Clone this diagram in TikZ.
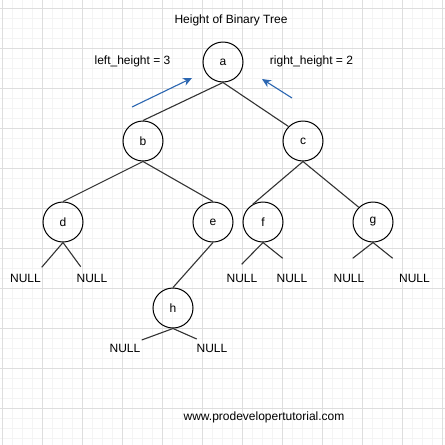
\documentclass[tikz,border=0pt]{standalone}
\usepackage{fontspec}
\setmainfont{Liberation Sans}
\usetikzlibrary{arrows.meta}

\definecolor{gridmajor}{HTML}{DEDEDE}
\definecolor{gridminor}{HTML}{F4F4F4}
\definecolor{arrowblue}{HTML}{2B66B1}
\definecolor{edgegray}{HTML}{333333}

\tikzset{
    treenode/.style={draw=black, circle, minimum size=40pt, inner sep=0pt, line width=1pt},
    treeedge/.style={draw=edgegray, line width=1.1pt},
    heightarrow/.style={draw=arrowblue, line width=1.1pt, -{Stealth[length=9pt, width=8pt]}},
}

\begin{document}
\begin{tikzpicture}[x=1pt, y=-1pt, font=\fontsize{12}{14}\selectfont]

    \fill[white] (0, 0) rectangle (445, 445);
    \useasboundingbox (0, 0) rectangle (445, 445);

    % grid
    \foreach \i in {0, ..., 44} {
        \draw[gridminor, line width=0.7pt] (2.3+10*\i, 0) -- (2.3+10*\i, 445);
        \draw[gridminor, line width=0.7pt] (0, 8.3+10*\i) -- (445, 8.3+10*\i);
    }
    \foreach \i in {0, ..., 11} {
        \draw[gridmajor, line width=0.9pt] (2.3+40*\i, 0) -- (2.3+40*\i, 445);
        \draw[gridmajor, line width=0.9pt] (0, 8.3+40*\i) -- (445, 8.3+40*\i);
    }

    \node (title) at (231, 20) {Height of Binary Tree};
    \node (lefth) at (132.5, 61) {left\_height = 3};
    \node (righth) at (311.5, 61) {right\_height = 2};
    \node (site) at (264, 417) {www.prodevelopertutorial.com};

    \node[treenode] (a) at (223, 62) {a};
    \node[treenode] (b) at (143, 141) {b};
    \node[treenode] (c) at (303, 141) {c};
    \node[treenode] (d) at (63, 222) {d};
    \node[treenode] (e) at (213, 222) {e};
    \node[treenode] (f) at (263, 222) {f};
    \node[treenode] (g) at (373, 222) {g};
    \node[treenode] (h) at (173, 308) {h};

    \foreach \n/\x/\y in {nda/25.5/278, ndb/92/278, nfa/242/278, nfb/292/278, nga/349/278, ngb/414.5/278, nha/125/348, nhb/212/348}
        \node (\n) at (\x, \y) {NULL};

    \draw[treeedge] (a.south) -- (b.north);
    \draw[treeedge] (a.south) -- (c.135);
    \draw[treeedge] (b.south) -- (d.north);
    \draw[treeedge] (b.south) -- (e.north);
    \draw[treeedge] (c.south) -- (f.120);
    \draw[treeedge] (c.south) -- (g.134);
    \draw[treeedge] (e.south) -- (h.north);

    % stubs to the NULL leaves
    \coordinate (sda) at (41.7, 267.3);
    \coordinate (sdb) at (80.7, 266.7);
    \coordinate (sfa) at (241.7, 264.3);
    \coordinate (sfb) at (282.7, 258.3);
    \coordinate (sga) at (352.7, 258.3);
    \coordinate (sgb) at (392.7, 258.3);
    \coordinate (sha) at (141.7, 340);
    \coordinate (shb) at (196.7, 339);
    \foreach \p/\A/\B in {d/sda/sdb, f/sfa/sfb, g/sga/sgb, h/sha/shb} {
        \draw[treeedge] (\p.south) -- (\A);
        \draw[treeedge] (\p.south) -- (\B);
    }

    \coordinate (la) at (132, 107);
    \coordinate (lb) at (192, 78);
    \coordinate (ra) at (292, 98);
    \coordinate (rb) at (262, 79);
    \draw[heightarrow] (la) -- (lb);
    \draw[heightarrow] (ra) -- (rb);

\end{tikzpicture}
\end{document}
